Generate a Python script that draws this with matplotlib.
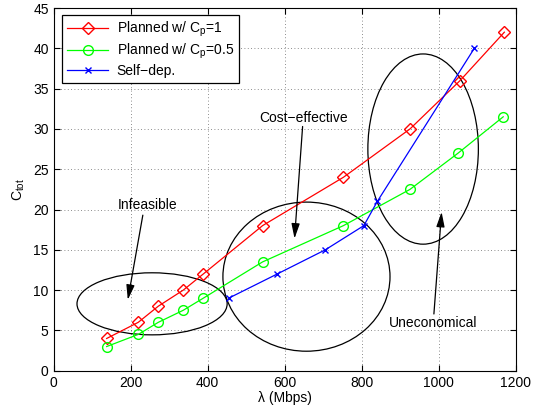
import matplotlib
matplotlib.use("Agg")
import matplotlib.pyplot as plt
from matplotlib.patches import Ellipse

plt.rcParams['font.family'] = ['Liberation Sans', 'DejaVu Sans']
plt.rcParams['mathtext.fontset'] = 'custom'
plt.rcParams['mathtext.rm'] = 'Liberation Sans'
plt.rcParams['mathtext.it'] = 'Liberation Sans'

lam_red = [138, 220, 272, 337, 389, 543, 753, 926, 1056, 1171]
c_red = [4, 6, 8, 10, 12, 18, 24, 30, 36, 42]
lam_green = [138, 220, 272, 337, 389, 543, 753, 926, 1051, 1168]
c_green = [3, 4.5, 6, 7.5, 9, 13.5, 18, 22.5, 27, 31.5]
lam_blue = [455, 581, 706, 806, 841, 1093]
c_blue = [9, 12, 15, 18, 21, 40]

labels = ['Planned w/ C$_\\mathregular{p}$=1', 'Planned w/ C$_\\mathregular{p}$=0.5', 'Self\u2212dep.']

fig = plt.figure(figsize=(5.33, 4.15), dpi=100)
ax = fig.add_axes([0.1004, 0.1067, 0.8668, 0.874])

ax.plot(lam_red, c_red, '-', color='red', marker='D', markersize=6.5, markerfacecolor='none',
        markeredgecolor='red', lw=0.9, label=labels[0])
ax.plot(lam_green, c_green, '-', color='#00ff00', marker='o', markersize=7, markerfacecolor='none',
        markeredgecolor='#00ff00', lw=0.9, label=labels[1])
ax.plot(lam_blue, c_blue, '-', color='blue', marker='x', markersize=5, lw=0.9, label=labels[2])

# ellipses
for (cx, cy, w, h) in [(256, 8.3, 390, 7.7), (657, 11.67, 434, 18.5), (960, 27.5, 287, 23.6)]:
    ax.add_patch(Ellipse((cx, cy), w, h, fill=False, edgecolor='black', lw=0.9))

arrow = dict(arrowstyle='-|>,head_length=0.9,head_width=0.25', color='black', lw=0.9,
             shrinkA=0, shrinkB=0)
ax.annotate('', xy=(193, 8.8), xytext=(232, 19.3), arrowprops=arrow)
ax.annotate('', xy=(626, 16.4), xytext=(647, 30.3), arrowprops=arrow)
ax.annotate('', xy=(1008, 19.7), xytext=(988, 7.04), arrowprops=arrow)
ax.text(243, 20.6, 'Infeasible', ha='center', va='center', fontsize=10)
ax.text(650, 31.4, 'Cost\u2212effective', ha='center', va='center', fontsize=10)
ax.text(986, 5.95, 'Uneconomical', ha='center', va='center', fontsize=10)

ax.set_xlim(0, 1200)
ax.set_ylim(0, 45)
ax.set_xticks(range(0, 1201, 200))
ax.set_yticks(range(0, 46, 5))
ax.tick_params(direction='in', top=True, right=True, labelsize=10, length=4)
ax.grid(True, linestyle=(0, (1, 3)), color='black', lw=0.6, alpha=0.6)
ax.set_axisbelow(True)
ax.set_xlabel('\u03bb (Mbps)', fontsize=10, labelpad=1)
ax.set_ylabel('C$_\\mathregular{tot}$', fontsize=10, labelpad=4)

leg = ax.legend(loc='upper left', fontsize=10, handlelength=3.0, fancybox=False,
                edgecolor='black', framealpha=1, borderpad=0.35, labelspacing=0.2,
                handletextpad=0.6, borderaxespad=0, bbox_to_anchor=(0.018, 0.981))
leg.get_frame().set_linewidth(0.9)

fig.savefig('out.png', dpi=100)
